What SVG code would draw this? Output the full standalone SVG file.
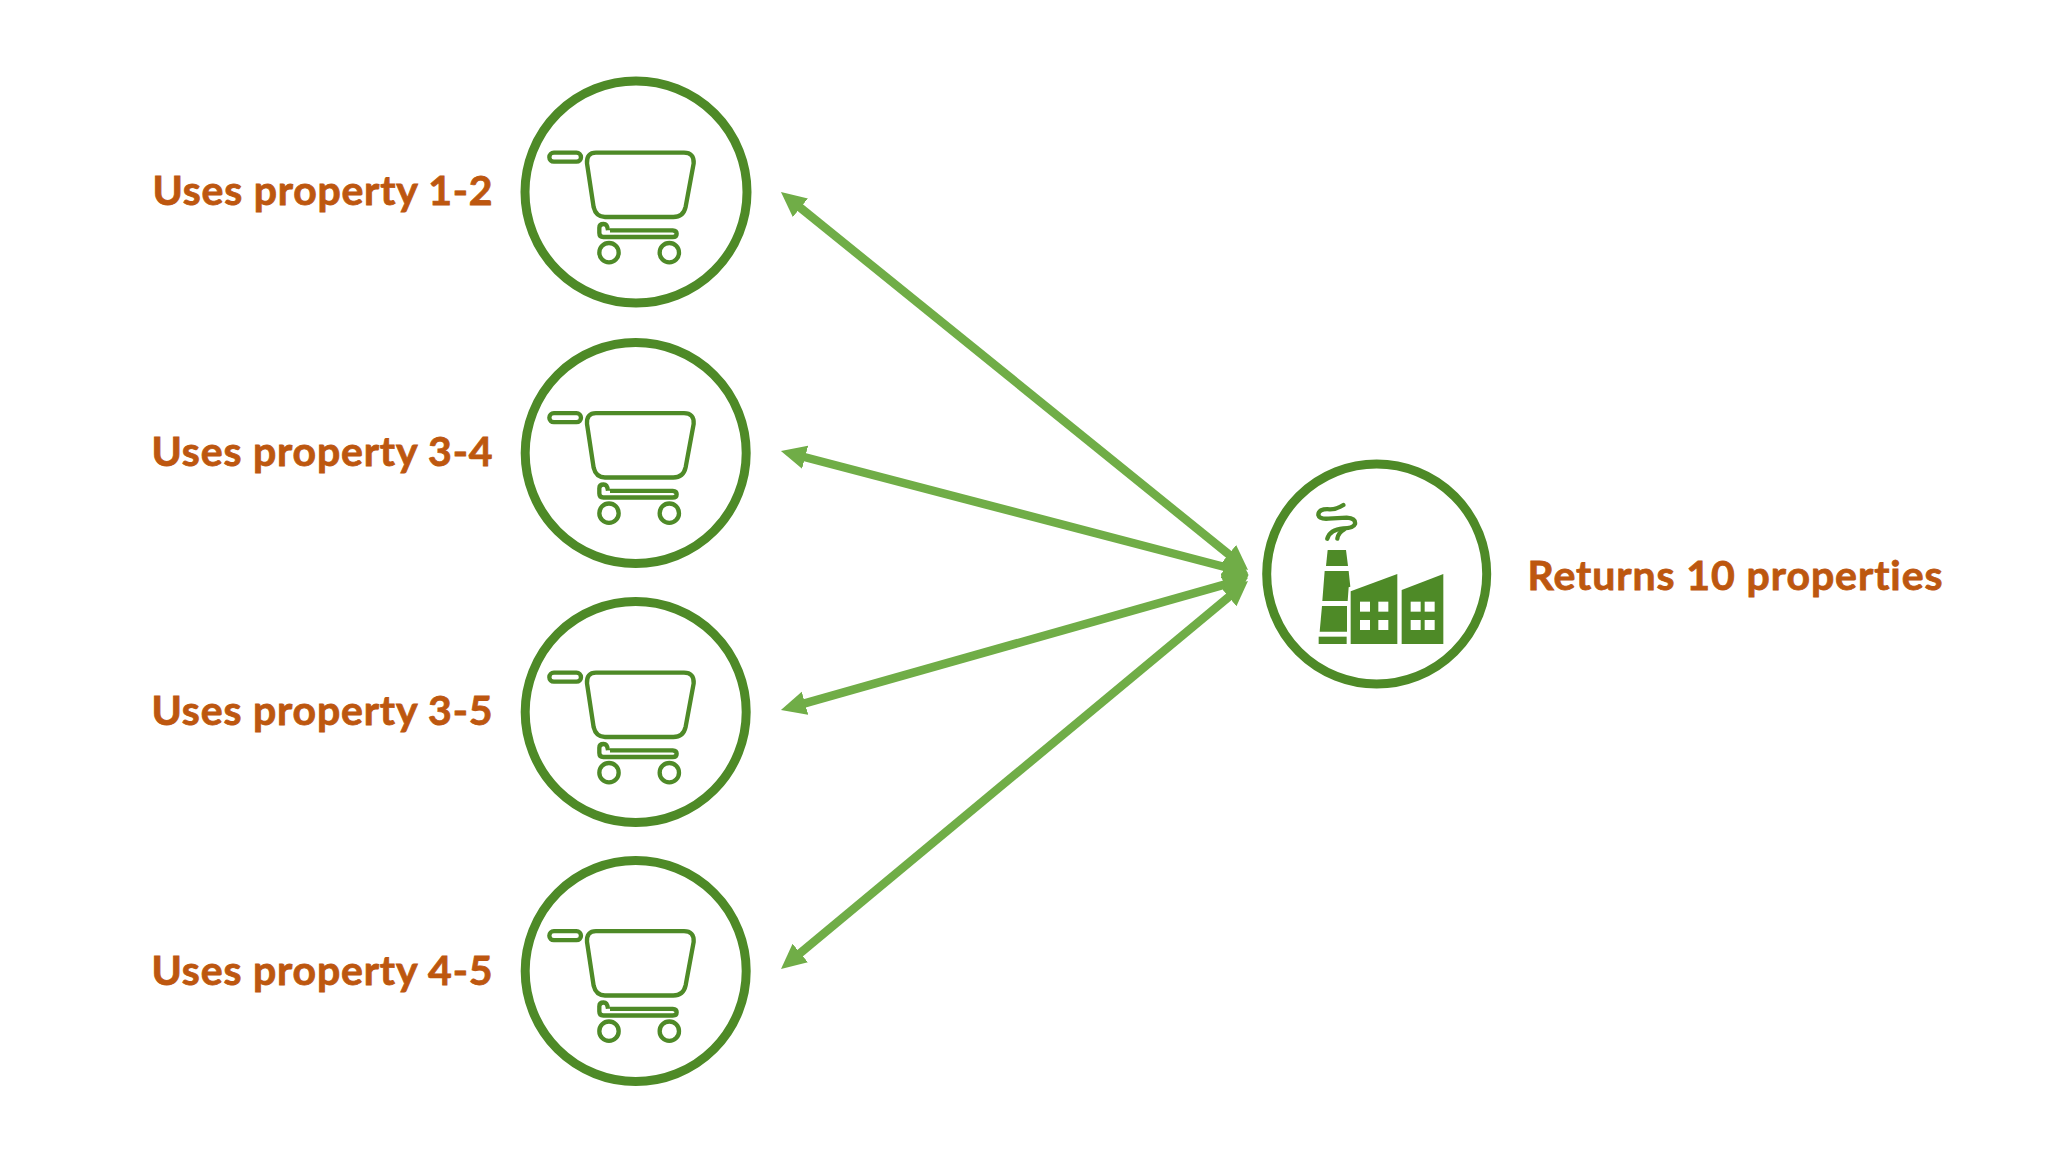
<svg xmlns="http://www.w3.org/2000/svg" xmlns:xlink="http://www.w3.org/1999/xlink" width="2048" height="1152" viewBox="0 0 2048 1152">
<style>
.ring{fill:#fff;stroke:#4e8a27;stroke-width:9}
.cart{fill:none;stroke:#4e8a27;stroke-width:13;stroke-linejoin:round}
.fac{fill:#4e8a27}
.win{fill:#fff}
.smoke{fill:none;stroke:#4e8a27;stroke-width:13;stroke-linecap:round}
.lbl{font-family:"Lato","Liberation Sans",sans-serif;font-weight:700;font-size:41px;fill:#bd570f;stroke:#bd570f;stroke-width:.8;font-variant-ligatures:none}
.conn{stroke:#70ad47;stroke-width:8.5;fill:none;marker-start:url(#head);marker-end:url(#head)}
</style>
<defs>
<marker id="head" markerUnits="userSpaceOnUse" markerWidth="26" markerHeight="26" refX="5" refY="13" orient="auto-start-reverse"><path d="M0 1 L25 13 L0 25 Z" fill="#70ad47"/></marker>
<g id="cart" transform="translate(510 60) scale(.33333)">
<rect class="cart" x="118" y="278" width="95" height="27" rx="13.5"/>
<path class="cart" d="M258 278 L522 278 Q553 278 551 310 L527 440 Q520 471 490 471 L285 471 Q258 471 251 442 L231 310 Q229 278 258 278 Z"/>
<path class="cart" d="M300 511 L488 511 Q500 512 500 521 Q500 531 488 531 L280 531 Q268 531 268 519 L268 503 Q268 492 281 492 Q292 492 294 511"/>
<circle class="cart" cx="297" cy="578" r="29"/>
<circle class="cart" cx="478" cy="578" r="29"/>
</g>
</defs>
<rect width="2048" height="1152" fill="#fff"/>
<g id="connectors">
<line class="conn" x1="796.5" y1="204.6" x2="1232.5" y2="557.4"/>
<line class="conn" x1="800.3" y1="456" x2="1228.6" y2="568"/>
<line class="conn" x1="800.2" y1="704.6" x2="1228.8" y2="583.4"/>
<line class="conn" x1="796.4" y1="956.2" x2="1232.6" y2="593.8"/>
<polygon points="1237,550 1248.5,575 1237,602 1226,590 1222,578 1225,563" fill="#70ad47"/>
</g>
<g id="node-1">
<circle class="ring" cx="636" cy="192" r="111"/>
<use href="#cart"/>
<text class="lbl" x="152.5" y="205" textLength="340" lengthAdjust="spacing">Uses property 1-2</text>
</g>
<g id="node-2">
<circle class="ring" cx="635.7" cy="453" r="110.5"/>
<use href="#cart" y="260.5"/>
<text class="lbl" x="151.5" y="465.5" textLength="341" lengthAdjust="spacing">Uses property 3-4</text>
</g>
<g id="node-3">
<circle class="ring" cx="635.7" cy="712" r="110.5"/>
<use href="#cart" y="520"/>
<text class="lbl" x="151.5" y="724.5" textLength="341" lengthAdjust="spacing">Uses property 3-5</text>
</g>
<g id="node-4">
<circle class="ring" cx="635.7" cy="971" r="110.5"/>
<use href="#cart" y="778.5"/>
<text class="lbl" x="151.5" y="984.5" textLength="341" lengthAdjust="spacing">Uses property 4-5</text>
</g>
<g id="factory">
<circle class="ring" cx="1376.7" cy="574" r="110"/>
<g transform="translate(1250 450) scale(.33333)">
<polygon class="fac" points="233,300 288,300 294,348 228,348"/>
<polygon class="fac" points="224,363 296,363 301,410 296,412 293,453 217,453"/>
<polygon class="fac" points="216,468 291,468 291,545 209,545"/>
<rect class="fac" x="206" y="560" width="84" height="22"/>
<polygon class="fac" points="302,424 442,372 442,582 302,582"/>
<polygon class="fac" points="455,420 580,372 580,582 455,582"/>
<rect class="win" x="330" y="455" width="30" height="30"/><rect class="win" x="385" y="455" width="30" height="30"/>
<rect class="win" x="330" y="510" width="30" height="30"/><rect class="win" x="385" y="510" width="30" height="30"/>
<rect class="win" x="482" y="455" width="30" height="30"/><rect class="win" x="524" y="455" width="30" height="30"/>
<rect class="win" x="482" y="510" width="30" height="30"/><rect class="win" x="524" y="510" width="30" height="30"/>
<path class="smoke" d="M280 165 Q260 178 240 178 Q205 175 205 195 Q208 208 235 206 L290 203 Q318 205 315 222 Q310 235 280 235 Q240 238 232 266"/>
<path class="smoke" d="M262 266 Q265 247 283 238"/>
</g>
<text class="lbl" x="1527.5" y="589.5" textLength="415" lengthAdjust="spacing">Returns 10 properties</text>
</g>
</svg>
